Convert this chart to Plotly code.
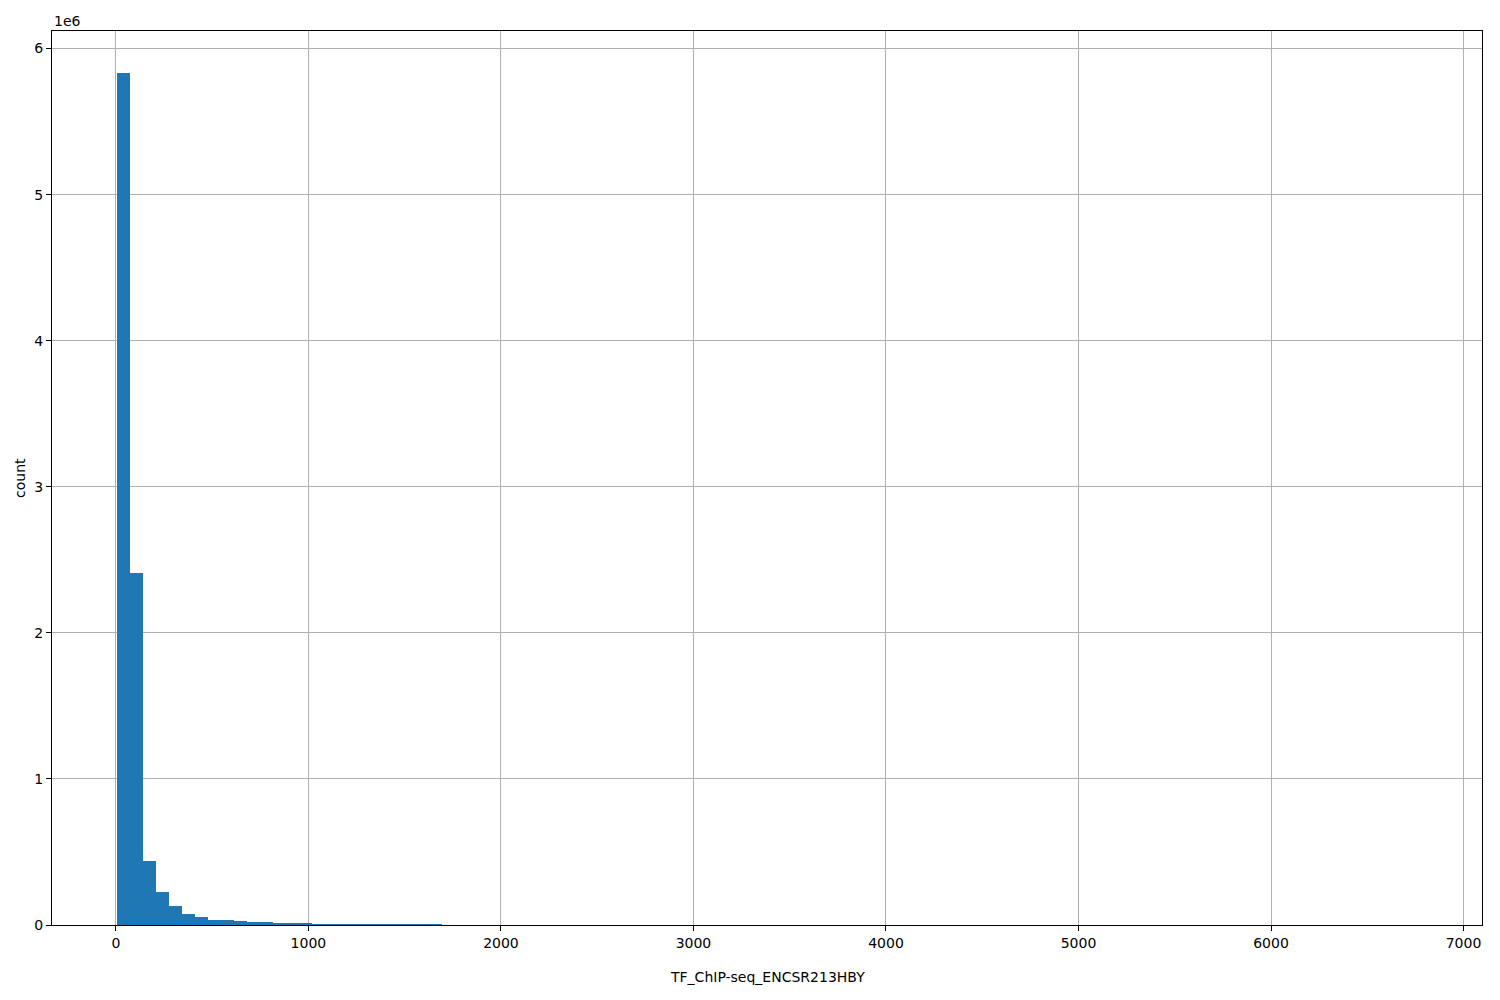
import plotly.graph_objects as go

# Histogram data (100 equal-width bins)
bin_start = 8.0
bin_width = 67.5
counts = [5830000, 2410000, 438000, 226000, 130000, 75000, 55000, 34000, 34000, 27000,
          21000, 21000, 14000, 7000, 14000, 6000, 6000, 6000, 6000, 6000,
          6000, 1000, 1000, 6000, 6000, 0, 0, 0, 0, 0,
          0, 0, 0, 0, 0, 0, 0, 0, 0, 0,
          0, 0, 0, 0, 0, 0, 0, 0, 0, 0,
          0, 0, 0, 0, 0, 0, 0, 0, 0, 0,
          0, 0, 0, 0, 0, 0, 0, 0, 0, 0,
          0, 0, 0, 0, 0, 0, 0, 0, 0, 0,
          0, 0, 0, 0, 0, 0, 0, 0, 0, 0,
          0, 0, 0, 0, 0, 0, 0, 0, 0, 0]
x_ticks = [0, 1000, 2000, 3000, 4000, 5000, 6000, 7000]
y_ticks = [0, 1, 2, 3, 4, 5, 6]
x_label = "TF_ChIP-seq_ENCSR213HBY"
y_label = "count"

centers = [bin_start + bin_width * (i + 0.5) for i in range(len(counts))]

fig = go.Figure(go.Bar(x=centers, y=counts, width=[bin_width] * len(counts),
                       marker=dict(color="#1f77b4", line=dict(width=0))))

axis_common = dict(showline=True, linecolor="black", linewidth=1, mirror=True,
                   ticks="outside", ticklen=5, tickcolor="black",
                   showgrid=True, gridcolor="#b0b0b0", gridwidth=1, zeroline=False,
                   automargin=False,
                   tickfont=dict(family="DejaVu Sans", size=14, color="black"))

fig.update_layout(
    width=1492, height=992,
    margin=dict(l=44, r=18, t=23, b=75),
    paper_bgcolor="white", plot_bgcolor="white",
    bargap=0, showlegend=False,
    font=dict(family="DejaVu Sans", size=14, color="black"),
    xaxis=dict(range=[-332, 7096], tickvals=x_ticks, ticktext=[str(v) for v in x_ticks],
               **axis_common),
    yaxis=dict(range=[0, 6.12e6], tickvals=[v * 1e6 for v in y_ticks],
               ticktext=[str(v) for v in y_ticks], **axis_common),
    annotations=[
        dict(text="1e6", xref="paper", yref="paper", x=0, y=1,
             xanchor="left", yanchor="bottom", showarrow=False,
             font=dict(family="DejaVu Sans", size=14, color="black")),
        dict(text=x_label, xref="paper", yref="paper", x=0.5, y=0,
             xanchor="center", yanchor="middle", showarrow=False, yshift=-52,
             font=dict(family="DejaVu Sans", size=14, color="black")),
        dict(text=y_label, xref="paper", yref="paper", x=0, y=0.5,
             xanchor="center", yanchor="middle", showarrow=False, xshift=-32,
             textangle=-90, font=dict(family="DejaVu Sans", size=14, color="black")),
    ],
)

fig.write_html("out.html")
